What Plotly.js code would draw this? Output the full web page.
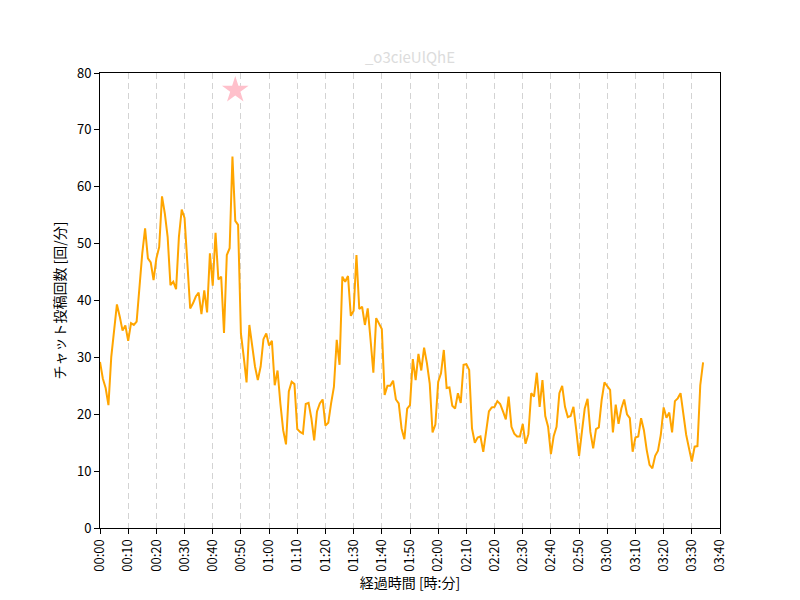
<!DOCTYPE html>
<html>
<head>
<meta charset="utf-8">
<script src="https://cdn.plot.ly/plotly-3.0.1.min.js"></script>
<style>html,body{margin:0;padding:0;background:#fff;}#chart{width:800px;height:600px;}</style>
</head>
<body>
<div id="chart"></div>
<script>
// Chat posts per minute, one value per elapsed minute starting at 00:00
const postsPerMinute = [
  29.2, 26.3, 24.6, 21.6, 30.1, 34.2, 39.3, 37.2, 34.7, 35.6,
  32.9, 36.0, 35.7, 36.3, 42.4, 48.3, 52.7, 47.4, 46.7, 43.6,
  47.4, 49.4, 58.3, 55.3, 51.2, 42.7, 43.3, 42.0, 51.2, 56.0,
  54.5, 46.0, 38.6, 39.5, 40.7, 41.4, 37.6, 41.8, 37.9, 48.3,
  42.6, 51.9, 43.7, 44.2, 34.3, 48.0, 49.2, 65.3, 54.0, 53.3,
  34.2, 30.1, 25.6, 35.7, 32.2, 28.4, 26.0, 28.4, 33.2, 34.2,
  32.1, 32.9, 25.1, 27.7, 21.9, 17.2, 14.7, 24.0, 25.7, 25.3,
  17.4, 16.9, 16.6, 21.8, 22.0, 19.3, 15.4, 20.5, 21.9, 22.6,
  18.0, 18.5, 21.9, 24.8, 33.1, 28.7, 44.2, 43.3, 44.3, 37.3,
  38.2, 48.0, 38.5, 38.9, 35.7, 38.6, 33.1, 27.3, 36.9, 36.0,
  35.0, 23.4, 25.0, 25.0, 25.9, 22.6, 21.9, 17.5, 15.6, 21.0,
  21.6, 29.7, 26.0, 30.6, 27.7, 31.7, 29.0, 25.4, 16.8, 18.2,
  25.7, 27.2, 31.3, 24.6, 24.7, 21.5, 21.0, 23.7, 22.0, 28.7,
  28.8, 27.8, 17.5, 15.0, 15.9, 16.1, 13.4, 16.9, 20.5, 21.2,
  21.3, 22.3, 21.8, 20.5, 19.1, 23.1, 17.8, 16.6, 16.1, 16.1,
  18.3, 14.8, 16.5, 23.7, 23.1, 27.3, 21.3, 26.0, 19.7, 17.8,
  13.0, 16.2, 17.8, 23.7, 25.0, 21.3, 19.5, 19.7, 21.3, 17.2,
  12.7, 16.9, 21.0, 22.7, 16.9, 14.0, 17.4, 17.7, 22.5, 25.6,
  25.0, 24.3, 16.8, 21.7, 18.3, 21.0, 22.6, 20.0, 19.3, 13.4,
  15.9, 16.1, 19.3, 17.2, 13.7, 11.1, 10.5, 12.7, 13.6, 16.4,
  21.2, 19.4, 20.3, 16.8, 22.3, 22.8, 23.7, 19.9, 16.4, 14.0,
  11.7, 14.3, 14.4, 25.1, 29.1
];
const elapsedMinutes = postsPerMinute.map((_, i) => i);

const tickMinutes = [0, 10, 20, 30, 40, 50, 60, 70, 80, 90, 100, 110, 120,
  130, 140, 150, 160, 170, 180, 190, 200, 210, 220];
const tickLabels = ["00:00", "00:10", "00:20", "00:30", "00:40", "00:50",
  "01:00", "01:10", "01:20", "01:30", "01:40", "01:50", "02:00", "02:10",
  "02:20", "02:30", "02:40", "02:50", "03:00", "03:10", "03:20", "03:30", "03:40"];

const highlightMinute = [48];
const highlightValue = [77];

const chartTitle = "_o3cieUlQhE";
const xTitle = "経過時間 [時:分]";
const yTitle = "チャット投稿回数 [回/分]";

const FONT = '"Noto Sans CJK JP", "DejaVu Sans", sans-serif';

const traces = [
  {
    x: elapsedMinutes, y: postsPerMinute, type: 'scatter', mode: 'lines',
    line: {color: '#FFA500', width: 2}, hoverinfo: 'skip', showlegend: false
  },
  {
    x: highlightMinute, y: highlightValue, type: 'scatter', mode: 'markers',
    marker: {symbol: 'star', size: 20, color: '#FFC0CB', line: {width: 0}},
    hoverinfo: 'skip', showlegend: false
  }
];

const layout = {
  width: 800, height: 600,
  paper_bgcolor: '#ffffff', plot_bgcolor: '#ffffff',
  margin: {l: 100, r: 80, t: 73, b: 72, pad: 0},
  font: {family: FONT, size: 13, color: '#000'},
  title: {
    text: chartTitle, font: {family: FONT, size: 15, color: '#dcdcdc'},
    xref: 'paper', x: 0.5, xanchor: 'center',
    yref: 'container', y: 1 - 58 / 600, yanchor: 'middle'
  },
  xaxis: {
    range: [0, 220], tickmode: 'array', tickvals: tickMinutes, ticktext: tickLabels,
    tickangle: -90, ticks: 'outside', ticklen: 5, tickcolor: '#000', tickwidth: 1,
    showline: true, linecolor: '#000', linewidth: 1, mirror: true,
    showgrid: true, gridcolor: '#d3d3d3', gridwidth: 1, griddash: '6px,4px',
    zeroline: false, tickfont: {family: FONT, size: 13},
    title: {text: xTitle, font: {family: FONT, size: 14}, standoff: 2}
  },
  yaxis: {
    range: [0, 80], tickmode: 'array', tickvals: [0, 10, 20, 30, 40, 50, 60, 70, 80],
    ticks: 'outside', ticklen: 5, tickcolor: '#000', tickwidth: 1,
    showline: true, linecolor: '#000', linewidth: 1, mirror: true,
    showgrid: false, zeroline: false, tickfont: {family: FONT, size: 13},
    title: {text: yTitle, font: {family: FONT, size: 14}, standoff: 8}
  }
};

Plotly.newPlot('chart', traces, layout, {staticPlot: true, displayModeBar: false});
</script>
</body>
</html>
